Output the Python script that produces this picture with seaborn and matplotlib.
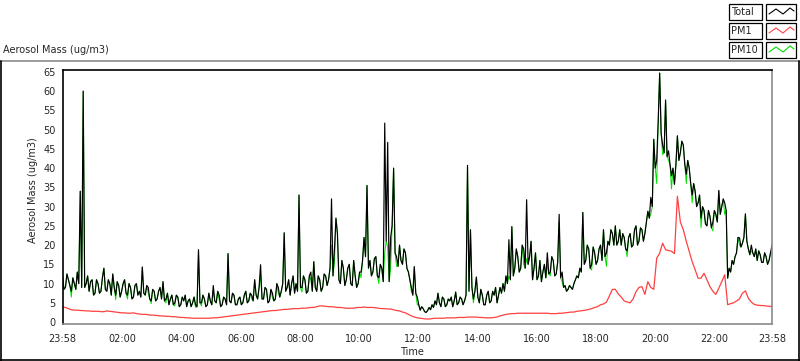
import numpy as np
import pandas as pd
import matplotlib
matplotlib.use("Agg")
import matplotlib.pyplot as plt
import seaborn as sns
from matplotlib.lines import Line2D
from matplotlib.patches import Rectangle

# Total and PM10 every 3 minutes, 23:58 -> 23:58
total = [12, 8.5, 9, 12.5, 11, 9.5, 8, 11.5, 10, 8.5, 13, 10, 34, 9, 60, 9,
         10, 12, 8, 10.5, 11, 7, 7.5, 11, 10, 7.5, 8, 11.5, 14, 8.5,
         8, 11, 10, 7, 12.5, 9, 7, 10.5, 9.5, 6.5, 8, 10, 11, 7.5,
         7, 10, 9, 6, 6.5, 9.5, 10, 7, 8, 6.5,
         14.3, 7.5,
         7, 9.5, 9, 6, 5.5, 8.5, 8, 5.5, 6, 8, 9, 6,
         10.5, 5.5,
         6, 7.5, 4.5, 6, 7, 4.5, 5, 7, 6.5, 4, 4.5, 6.5, 5.5, 7, 4, 5.5, 6, 4, 5, 6.5, 4.5, 4,
         18.8, 5,
         5, 7, 6, 4, 4.5, 7.5, 5.5, 4.5, 9.5, 5.5, 5, 8, 7, 4, 4.5, 6.5, 6, 4.5,
         17.8, 5.5,
         5, 7.5, 7, 4.5, 4.5, 6, 6.5, 4.5, 5, 7, 8, 5, 5.5, 7.5,
         7, 5.5, 11, 7, 6, 9,
         14.9, 6,
         6, 9, 8.5, 5, 5.5, 8.5, 7.5, 5.5, 6, 10, 9, 6.5,
         8, 10, 23.2, 8,
         9, 11, 7, 10, 12, 7.5,
         10, 8, 33, 9, 9, 12,
         11, 7.5, 8, 12, 13, 8, 15.7, 9,
         8, 12, 11, 8, 9, 12.5,
         12, 9.5, 11, 14,
         32, 12, 19, 27, 23, 11, 10, 16, 14, 9.5,
         11, 14, 15, 10, 9.5, 16, 12, 9, 10, 13,
         13, 16, 22, 17, 35.5, 14, 16, 12,
         13, 16.5, 17, 12, 11.5, 15, 14, 10.5,
         51.7, 21, 46.7, 10.5, 22, 25, 40, 18,
         17, 14.5, 20, 16, 15, 19, 18, 14, 13, 11,
         9, 7, 14.4, 7.5, 6.5, 4.5, 3.1, 4, 3.5, 2.7, 2.5, 3, 3.8, 3.2,
         4.5, 3.8, 5.5, 4.5, 7.5, 5, 4, 6.5, 6, 4, 4.5, 6,
         5.5, 6.5, 4, 5.5, 7.8, 4.5, 5, 6.5, 6, 4.5,
         5.5, 7, 40.7, 8, 24, 9,
         6, 8, 11.7, 6.5, 5, 8.5, 7, 4.5, 4.5, 7, 8, 5, 5.5, 8,
         7, 9, 5, 7, 9, 7.5,
         10, 8, 12, 10, 21.4, 11,
         24.8, 12, 14, 19,
         17, 13, 14, 20, 19, 14,
         31.8, 15, 17, 21,
         11, 14, 18, 11, 12, 16, 10.5, 13, 15, 11.5,
         18, 12.5, 13, 17, 16, 12, 12.5, 15.5,
         28, 11.5, 13, 9,
         9.5, 8, 8.5, 9.5, 9, 8.5, 10, 11,
         12, 11.5, 14, 13,
         28.5, 15,
         16, 20, 19, 14, 15, 19.5, 18, 15, 16, 19, 20, 16, 24, 17, 18, 21,
         20, 24, 23, 20,
         25, 20, 21, 24, 20, 23,
         22, 19, 18.5, 22, 23, 19.5, 20, 24,
         25, 20, 21, 24.5, 24, 21,
         23, 26, 28.8, 27,
         32.4, 30, 47.5, 40, 42, 52, 64.7, 49, 46, 44, 57.7, 43, 44.5, 41, 38, 40, 35.8, 41, 48.4, 42,
         44, 47, 46, 41, 38.4, 42, 40, 36, 33, 36, 34, 30, 31, 33, 27, 30, 29, 25.5, 25, 29,
         27.5, 24.5, 26, 29, 28, 26, 34.2, 28, 30, 32, 31, 29, 11.4, 14, 13, 16, 15, 17, 18, 22,
         21.9, 19.5, 20.5, 22, 28.1, 21, 19, 17.5, 20, 18, 17, 19, 16, 18.5, 17.5, 15.5, 15.5, 18, 17, 15,
         16, 18, 20]

pm10 = [12, 8.5, 9, 12.5, 11, 9.5, 6.5, 11.5, 10, 8.5, 13, 10, 34, 9, 60, 9,
        10, 12, 8, 10.5, 11, 7, 7.5, 11, 10, 7.5, 8, 11.5, 14, 8.5,
        8, 11, 10, 7, 12.5, 9, 5.8, 10.5, 9.5, 6.5, 8, 10, 11, 7.5,
        6, 10, 9, 6, 6.5, 9.5, 10, 7, 8, 6.5,
        14.3, 7.5,
        7, 9.5, 7.5, 6, 4.8, 8.5, 8, 5.5, 6, 8, 9, 6,
        10.5, 5.5,
        5, 7.5, 4.5, 6, 7, 4.5, 4.2, 7, 6.5, 4, 4.5, 6.5, 5.5, 7, 4, 5.5, 6, 4, 5, 6.5, 3.8, 4,
        18.8, 5,
        4.2, 7, 6, 4, 4.5, 7.5, 5.5, 4.5, 8, 5.5, 5, 8, 5.8, 4, 4.5, 6.5, 6, 4.5,
        17.8, 5.5,
        5, 7.5, 7, 4.5, 4.5, 6, 6.5, 4.5, 5, 7, 8, 5, 5.5, 7.5,
        6, 5.5, 11, 7, 6, 9,
        12, 6,
        6, 9, 8.5, 5, 5.5, 8.5, 6.3, 5.5, 6, 10, 7.5, 6.5,
        8, 10, 23.2, 8,
        9, 11, 7, 10, 12, 7.5,
        10, 8, 33, 9, 7.8, 12,
        11, 7.5, 8, 12, 11, 8, 15.7, 9,
        8, 12, 11, 8, 9, 12.5,
        12, 9.5, 11, 14,
        20, 12, 15.5, 27, 23, 11, 10, 16, 14, 9.5,
        11, 14, 15, 10, 9.5, 16, 12, 9, 10, 13,
        11.5, 16, 22, 17, 35.5, 14, 16, 12,
        13, 16.5, 17, 12, 10, 15, 14, 10.5,
        18, 21, 19.5, 10.5, 14, 25, 40, 18,
        14.5, 14.5, 20, 16, 15, 19, 18, 14, 13, 11,
        8, 7, 14.4, 7.5, 4.5, 4.5, 3.1, 4, 3.5, 2.7, 2.5, 3, 3.8, 3.2,
        4.5, 3.8, 5.5, 4.5, 7.5, 5, 4, 6.5, 6, 4, 4.5, 6,
        5.5, 6.5, 4, 5.5, 7.8, 4.5, 5, 6.5, 6, 4.5,
        5.5, 7, 40.7, 8, 24, 9,
        5, 8, 11.7, 6.5, 5, 8.5, 7, 4.5, 4.5, 7, 8, 5, 5.5, 8,
        7, 9, 5, 7, 9, 7.5,
        10, 8, 12, 10, 12, 11,
        24.8, 12, 14, 19,
        17, 13, 14, 20, 15, 14,
        16.5, 15, 17, 21,
        11, 14, 18, 11, 12, 16, 10.5, 13, 15, 11.5,
        15, 12.5, 12, 17, 16, 12, 12.5, 15.5,
        26, 11.5, 10.5, 9,
        9.5, 8, 8.5, 9.5, 9, 8.5, 10, 11,
        12, 11.5, 14, 13,
        28.5, 15,
        16, 20, 19, 14, 13.5, 19.5, 18, 15, 16, 19, 20, 16, 24, 17, 14.5, 21,
        20, 24, 23, 20,
        25, 20, 21, 24, 20, 23,
        22, 19, 17, 22, 23, 19.5, 20, 24,
        25, 20, 21, 24.5, 24, 21,
        23, 26, 28.8, 27,
        28, 30, 47.5, 40, 36, 52, 64.7, 49, 43.5, 44, 57.7, 43, 42, 41, 34.6, 40, 35.8, 41, 48.4, 42,
        44, 47, 46, 41, 36, 42, 40, 36, 31, 36, 34, 30, 31, 33, 24.5, 30, 29, 25.5, 25, 29,
        27.5, 24.5, 23.7, 29, 28, 26, 34.2, 28, 30, 32, 28, 29, 11.4, 14, 13, 16, 15, 17, 18, 22,
        20, 19.5, 20.5, 22, 28.1, 21, 19, 17.5, 18.5, 18, 17, 19, 16, 18.5, 17.5, 15.5, 15.5, 18, 17, 15,
        16, 18, 18]

# PM1 read every 6 minutes
pm1 = [3.9, 3.8, 3.5, 3.2, 3.1, 3.1, 3.0, 3.0, 2.9, 2.9,
       2.8, 2.8, 2.8, 2.7, 2.7, 2.9, 2.8, 2.7, 2.6, 2.5,
       2.4, 2.4, 2.3, 2.3, 2.4, 2.2, 2.1, 2.0, 2.0, 1.9,
       1.8, 1.8, 1.7, 1.6, 1.6, 1.5, 1.5, 1.4, 1.4, 1.3,
       1.2, 1.2, 1.1, 1.1, 1.0, 1.0, 1.0, 1.0, 1.0, 1.0,
       1.0, 1.1, 1.1, 1.2, 1.3, 1.4, 1.5, 1.6, 1.7, 1.8,
       1.9, 2.0, 2.1, 2.2, 2.3, 2.4, 2.5, 2.6, 2.7, 2.8,
       2.9, 3.0, 3.0, 3.1, 3.2, 3.3, 3.3, 3.4, 3.5, 3.5,
       3.5, 3.6, 3.6, 3.7, 3.8, 3.8, 4.0, 4.2, 4.2, 4.1,
       4.0, 4.0, 3.9, 3.8, 3.8, 3.7, 3.6, 3.6, 3.6, 3.7,
       3.8, 3.8, 3.9, 3.8, 3.8, 3.8, 3.7, 3.6, 3.5, 3.5,
       3.4, 3.4, 3.2, 3.0, 2.9, 2.6, 2.4, 2.0, 1.6, 1.3,
       1.1, 1.0, 0.9, 0.8, 0.8, 0.9, 1.0, 1.0, 1.0, 1.0,
       1.1, 1.1, 1.1, 1.1, 1.2, 1.2, 1.2, 1.3, 1.3, 1.3,
       1.3, 1.2, 1.2, 1.1, 1.1, 1.1, 1.2, 1.3, 1.6, 1.8,
       2.0, 2.1, 2.2, 2.2, 2.3, 2.3, 2.3, 2.3, 2.3, 2.3,
       2.3, 2.3, 2.3, 2.3, 2.3, 2.2, 2.2, 2.2, 2.3, 2.3,
       2.4, 2.5, 2.6, 2.6, 2.8, 2.9, 3.0, 3.1, 3.3, 3.5,
       3.8, 4.0, 4.5, 4.7, 5.2, 6.8, 8.5, 8.5, 7.3, 6.5,
       5.5, 5.2, 5.0, 6.0, 7.9, 9.0, 9.2, 7.2, 10.5, 9.0,
       8.5, 16.6, 17.9, 20.5, 18.8, 18.6, 18.4, 17.8, 32.7, 26,
       24, 21, 18.4, 15.7, 13.6, 11.4, 11.4, 12.7, 11, 9.2,
       8.0, 7.2, 8.8, 10.5, 12.3, 4.5, 4.8, 5.0, 5.5, 6.0,
       7.5, 8.1, 6.2, 5.2, 4.6, 4.4, 4.3, 4.3, 4.2, 4.1,
       4.0]

tick_minutes = [0, 122, 242, 362, 482, 602, 722, 842, 962, 1082, 1202, 1322, 1440]
tick_labels = ["23:58", "02:00", "04:00", "06:00", "08:00", "10:00", "12:00",
               "14:00", "16:00", "18:00", "20:00", "22:00", "23:58"]
legend_names = ["Total", "PM1", "PM10"]
legend_colors = ["black", "#ff4040", "#00e000"]

df = pd.DataFrame({"minute": np.linspace(0, 1440, len(total)),
                   "Total": total, "PM10": pm10})
df1 = pd.DataFrame({"minute": np.linspace(0, 1440, len(pm1)), "PM1": pm1})

sns.set_style("white")
plt.rcParams["font.family"] = ["DejaVu Sans"]
plt.rcParams["font.size"] = 7

W, H = 800, 361
fig = plt.figure(figsize=(W / 100, H / 100), dpi=100)
ax = fig.add_axes([62.5 / W, (H - 324) / H, (772 - 62.5) / W, (324 - 70) / H])

# green drawn first and thinner so it only shows where it dips below Total
sns.lineplot(data=df, x="minute", y="PM10", color=legend_colors[2], linewidth=0.7,
             estimator=None, ax=ax)
sns.lineplot(data=df, x="minute", y="Total", color=legend_colors[0], linewidth=0.85,
             estimator=None, ax=ax)
sns.lineplot(data=df1, x="minute", y="PM1", color=legend_colors[1], linewidth=0.9,
             estimator=None, ax=ax)

ax.set_xlim(0, 1440)
ax.set_ylim(-0.5, 65.5)
ax.set_xticks(tick_minutes)
ax.set_xticklabels(tick_labels)
minor = []
for a, b in zip(tick_minutes[:-1], tick_minutes[1:]):
    minor += list(np.linspace(a, b, 8)[1:-1])
ax.set_xticks(minor, minor=True)
ax.set_yticks(range(0, 70, 5))
ax.tick_params(axis="x", which="major", direction="out", length=5, width=1,
               color="black", pad=2, labelsize=7)
ax.tick_params(axis="x", which="minor", direction="out", length=2.5, width=1,
               color="black")
ax.tick_params(axis="y", which="major", direction="out", length=3.5, width=1,
               color="black", pad=1.5, labelsize=7)
ax.set_xlabel("")
ax.set_ylabel("")
for side in ["top", "left"]:
    ax.spines[side].set_color("black")
    ax.spines[side].set_linewidth(1.2)
for side in ["right", "bottom"]:
    ax.spines[side].set_color("#8a8a8a")
    ax.spines[side].set_linewidth(1.2)

fig.text(33 / W, 1 - 190 / H, "Aerosol Mass (ug/m3)", rotation=90,
         ha="center", va="center", fontsize=7)
fig.text(412 / W, 1 - 352 / H, "Time", ha="center", va="center", fontsize=7)
fig.text(3 / W, 1 - 50 / H, "Aerosol Mass (ug/m3)", ha="left", va="center", fontsize=7)

# outer panel frame
def px_line(x0, y0, x1, y1, color, lw=1.0):
    fig.add_artist(Line2D([x0 / W, x1 / W], [1 - y0 / H, 1 - y1 / H],
                          transform=fig.transFigure, color=color, lw=lw))

px_line(0, 61, 800, 61, "#8a8a8a", 1.2)
px_line(0.5, 61, 0.5, 361, "black", 1.2)
px_line(0, 360, 800, 360, "black", 1.2)
px_line(799, 61, 799, 361, "black", 1.2)

# legend boxes at top right
row_tops = [4, 23, 42]
for name, color, top in zip(legend_names, legend_colors, row_tops):
    h = 16
    fig.add_artist(Rectangle((729 / W, 1 - (top + h) / H), 33 / W, h / H,
                             transform=fig.transFigure, fill=False,
                             edgecolor="black", lw=0.9))
    fig.add_artist(Rectangle((766 / W, 1 - (top + h) / H), 30 / W, h / H,
                             transform=fig.transFigure, fill=False,
                             edgecolor="black", lw=0.9))
    fig.text(731 / W, 1 - (top + h / 2) / H, name, ha="left", va="center", fontsize=7)
    zx = [769, 776, 783, 790, 794]
    zy = [top + 10, top + 5, top + 10, top + 4, top + 7]
    fig.add_artist(Line2D([x / W for x in zx], [1 - y / H for y in zy],
                          transform=fig.transFigure, color=color, lw=0.8))

fig.savefig("out.png", dpi=100)
